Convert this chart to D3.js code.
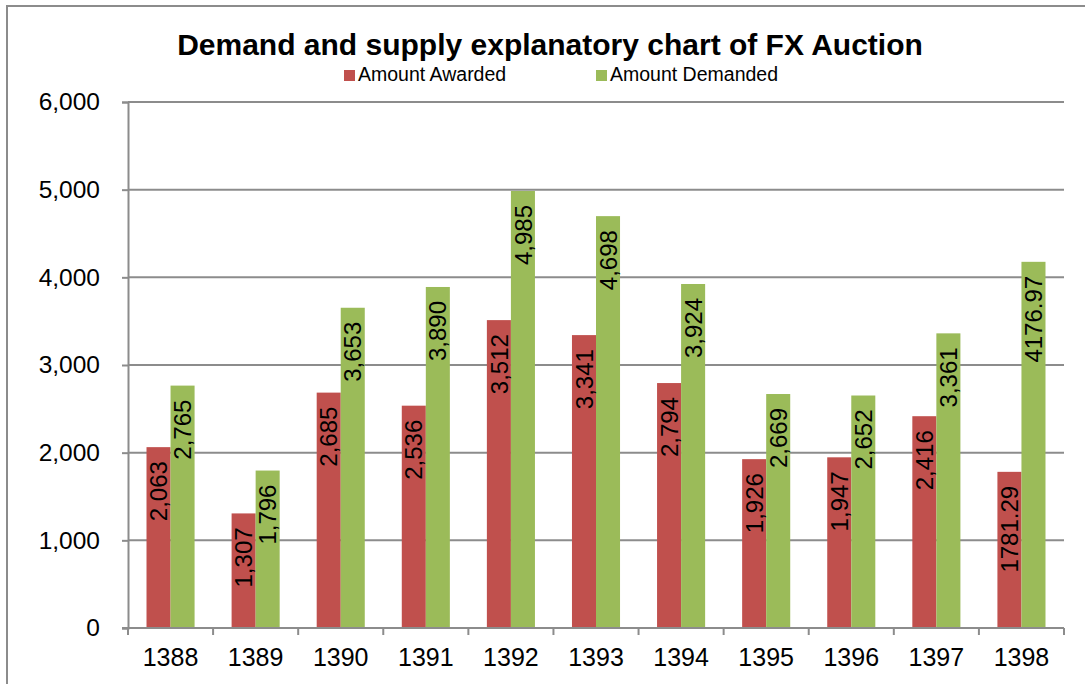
<!DOCTYPE html>
<html>
<head>
<meta charset="utf-8">
<script src="https://cdn.jsdelivr.net/npm/d3@7.9.0/dist/d3.min.js"></script>
<style>
  html, body { margin: 0; padding: 0; background: #fff; }
  svg { display: block; font-family: Arial, "Liberation Sans", sans-serif; }
</style>
</head>
<body>
<svg id="chart" width="1085" height="684"></svg>
<script>
// chart data
const years = ['1388', '1389', '1390', '1391', '1392', '1393', '1394', '1395', '1396', '1397', '1398'];
const series = ['Amount Awarded', 'Amount Demanded'];
const awarded = [2063, 1307, 2685, 2536, 3512, 3341, 2794, 1926, 1947, 2416, 1781.29];
const demanded = [2765, 1796, 3653, 3890, 4985, 4698, 3924, 2669, 2652, 3361, 4176.97];
const yTicks = [0, 1000, 2000, 3000, 4000, 5000, 6000];
const colors = ['#C0504D', '#9BBB59'];

const svg = d3.select('#chart');

// outer chart border (cropped at right/bottom)
svg.append('path')
  .attr('d', 'M7,700 L7,6 L1100,6')
  .attr('fill', 'none')
  .attr('stroke', '#8c8c8c')
  .attr('stroke-width', 2);

const plot = { left: 128, right: 1064, top: 102, bottom: 628 };

const x = d3.scaleBand()
  .domain(years)
  .range([plot.left, plot.right]);

const xInner = d3.scaleBand()
  .domain(series)
  .range([0, x.bandwidth()])
  .paddingOuter(0.77);

const y = d3.scaleLinear()
  .domain([0, 6000])
  .range([plot.bottom, plot.top]);

// gridlines
svg.append('g')
  .selectAll('line')
  .data(yTicks.filter(d => d > 0))
  .join('line')
  .attr('x1', plot.left)
  .attr('x2', plot.right)
  .attr('y1', d => y(d))
  .attr('y2', d => y(d))
  .attr('stroke', '#8c8c8c')
  .attr('stroke-width', 2);

// bars
const rows = years.map((yr, i) => ({ year: yr, values: [awarded[i], demanded[i]] }));

const groups = svg.append('g')
  .selectAll('g')
  .data(rows)
  .join('g')
  .attr('transform', d => `translate(${x(d.year)},0)`);

groups.selectAll('rect')
  .data(d => d.values.map((v, k) => ({ key: series[k], value: v, k })))
  .join('rect')
  .attr('x', d => xInner(d.key))
  .attr('width', xInner.bandwidth())
  .attr('y', d => y(d.value))
  .attr('height', d => y(0) - y(d.value))
  .attr('fill', d => colors[d.k]);

// rotated value labels inside bars
const fmt = v => Number.isInteger(v) ? d3.format(',')(v) : String(v);
groups.selectAll('text')
  .data(d => d.values.map((v, k) => ({ key: series[k], value: v, k })))
  .join('text')
  .attr('transform', d => `translate(${xInner(d.key) + xInner.bandwidth() / 2},${y(d.value) + 14}) rotate(-90)`)
  .attr('text-anchor', 'end')
  .attr('dy', '0.36em')
  .attr('font-size', 24)
  .attr('fill', '#000')
  .text(d => fmt(d.value));

// y axis
const yAxis = svg.append('g')
  .attr('transform', `translate(${plot.left},0)`)
  .call(d3.axisLeft(y).tickValues(yTicks).tickFormat(d3.format(',')).tickSize(6).tickPadding(22));
yAxis.select('.domain').attr('stroke', '#8c8c8c').attr('stroke-width', 2);
yAxis.selectAll('.tick line').attr('stroke', '#8c8c8c').attr('stroke-width', 2);
yAxis.selectAll('.tick text')
  .attr('font-size', 24.5)
  .attr('font-family', 'Arial, "Liberation Sans", sans-serif')
  .attr('fill', '#000');

// x axis line with ticks at category boundaries
const xg = svg.append('g');
xg.append('line')
  .attr('x1', plot.left - 6)
  .attr('x2', plot.right)
  .attr('y1', y(0))
  .attr('y2', y(0))
  .attr('stroke', '#8c8c8c')
  .attr('stroke-width', 2);
const bounds = years.map(d => x(d)).concat([x(years[years.length - 1]) + x.bandwidth()]);
xg.selectAll('line.tk')
  .data(bounds)
  .join('line')
  .attr('class', 'tk')
  .attr('x1', d => d)
  .attr('x2', d => d)
  .attr('y1', y(0))
  .attr('y2', y(0) + 7)
  .attr('stroke', '#8c8c8c')
  .attr('stroke-width', 2);
xg.selectAll('text')
  .data(years)
  .join('text')
  .attr('x', d => x(d) + x.bandwidth() / 2)
  .attr('y', 666)
  .attr('text-anchor', 'middle')
  .attr('font-size', 25)
  .attr('fill', '#000')
  .text(d => d);

// title
svg.append('text')
  .attr('x', 550)
  .attr('y', 55)
  .attr('text-anchor', 'middle')
  .attr('font-size', 30)
  .attr('font-weight', 'bold')
  .attr('fill', '#000')
  .text('Demand and supply explanatory chart of FX Auction');

// legend
const legendX = [344, 596];
const legend = svg.append('g')
  .selectAll('g')
  .data(series)
  .join('g')
  .attr('transform', (d, i) => `translate(${legendX[i]},0)`);
legend.append('rect')
  .attr('x', 0)
  .attr('y', 70)
  .attr('width', 11)
  .attr('height', 11)
  .attr('fill', (d, i) => colors[i]);
legend.append('text')
  .attr('x', 14)
  .attr('y', 81)
  .attr('font-size', 19.5)
  .attr('fill', '#000')
  .text(d => d);
</script>
</body>
</html>
